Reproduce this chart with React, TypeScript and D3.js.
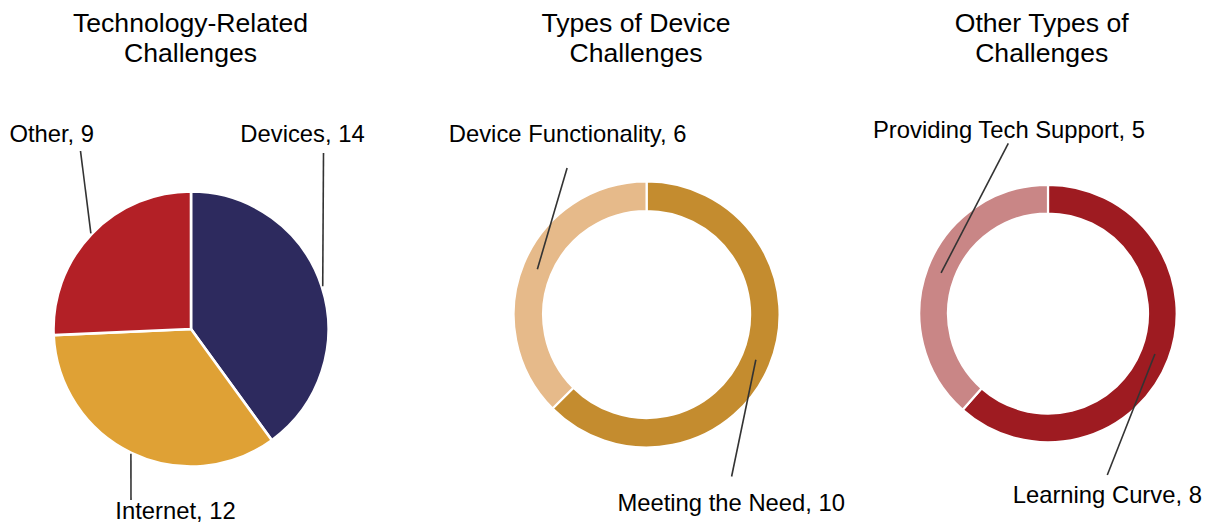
import React from "react";
import * as d3 from "d3";

const W = 1207;
const H = 524;

// Chart 1: Technology-Related Challenges (pie)
const techTitle = ["Technology-Related", "Challenges"];
const techCategories = ["Devices", "Internet", "Other"];
const techValues = [14, 12, 9];
const techColors = ["#2D2A5E", "#DFA135", "#B32026"];

// Chart 2: Types of Device Challenges (donut)
const deviceTitle = ["Types of Device", "Challenges"];
const deviceCategories = ["Meeting the Need", "Device Functionality"];
const deviceValues = [10, 6];
const deviceColors = ["#C48C2F", "#E6BA8A"];

// Chart 3: Other Types of Challenges (donut)
const otherTitle = ["Other Types of", "Challenges"];
const otherCategories = ["Learning Curve", "Providing Tech Support"];
const otherValues = [8, 5];
const otherColors = ["#9E1B21", "#C98686"];

type LabelLayout = { tx: number; ty: number; lx: number; ly: number };

type ChartSpec = {
  title: string[];
  titleX: number;
  categories: string[];
  values: number[];
  colors: string[];
  cx: number;
  cy: number;
  outer: number;
  inner: number;
  leaderRadius: "outer" | "mid";
  labels: LabelLayout[];
};

const charts: ChartSpec[] = [
  {
    title: techTitle,
    titleX: 190.5,
    categories: techCategories,
    values: techValues,
    colors: techColors,
    cx: 191,
    cy: 329,
    outer: 137.5,
    inner: 0,
    leaderRadius: "outer",
    labels: [
      { tx: 111.5, ty: -187, lx: 132.5, ly: -176 },
      { tx: -15.5, ty: 190, lx: -60, ly: 171 },
      { tx: -139.3, ty: -187, lx: -110.5, ly: -178 },
    ],
  },
  {
    title: deviceTitle,
    titleX: 636,
    categories: deviceCategories,
    values: deviceValues,
    colors: deviceColors,
    cx: 646.6,
    cy: 314.5,
    outer: 133,
    inner: 103.5,
    leaderRadius: "mid",
    labels: [
      { tx: 84.6, ty: 196.5, lx: 85, ly: 162 },
      { tx: -79, ty: -172.8, lx: -79.5, ly: -146.5 },
    ],
  },
  {
    title: otherTitle,
    titleX: 1041.7,
    categories: otherCategories,
    values: otherValues,
    colors: otherColors,
    cx: 1048,
    cy: 313.5,
    outer: 128.7,
    inner: 100,
    leaderRadius: "mid",
    labels: [
      { tx: 59.3, ty: 189.5, lx: 59.3, ly: 161.5 },
      { tx: -39, ty: -175.8, lx: -39.7, ly: -170.2 },
    ],
  },
];

const FONT = "'Liberation Sans', Arial, Helvetica, sans-serif";

function Chart({ spec }: { spec: ChartSpec }) {
  const pie = d3
    .pie<number>()
    .sort(null)
    .value((d) => d);
  const arcs = pie(spec.values);
  const arcGen = d3
    .arc<d3.PieArcDatum<number>>()
    .innerRadius(spec.inner)
    .outerRadius(spec.outer);
  const leaderR =
    spec.leaderRadius === "outer" ? spec.outer + 1 : (spec.outer + spec.inner) / 2;

  return (
    <g>
      <text
        x={spec.titleX}
        y={31}
        textAnchor="middle"
        fontFamily={FONT}
        fontSize={26.6}
        fill="#000"
      >
        <tspan x={spec.titleX} y={31.5}>
          {spec.title[0]}
        </tspan>
        <tspan x={spec.titleX} y={61.8}>
          {spec.title[1]}
        </tspan>
      </text>
      <g transform={`translate(${spec.cx},${spec.cy})`}>
        {arcs.map((a, i) => (
          <path
            key={i}
            d={arcGen(a) || ""}
            fill={spec.colors[i]}
            stroke="#fff"
            strokeWidth={spec.inner > 0 ? 2.2 : 2.6}
            strokeLinejoin="miter"
          />
        ))}
        {arcs.map((a, i) => {
          const mid = (a.startAngle + a.endAngle) / 2;
          const px = Math.sin(mid) * leaderR;
          const py = -Math.cos(mid) * leaderR;
          const lab = spec.labels[i];
          return (
            <g key={"l" + i}>
              <line
                x1={lab.lx}
                y1={lab.ly}
                x2={px}
                y2={py}
                stroke="#333"
                strokeWidth={1.6}
              />
              <text
                x={lab.tx}
                y={lab.ty}
                textAnchor="middle"
                fontFamily={FONT}
                fontSize={23.8}
                fill="#000"
              >
                {`${spec.categories[i]}, ${spec.values[i]}`}
              </text>
            </g>
          );
        })}
      </g>
    </g>
  );
}

export default function App() {
  return (
    <svg
      width={W}
      height={H}
      viewBox={`0 0 ${W} ${H}`}
      style={{ position: "absolute", left: 0, top: 0, background: "#fff" }}
    >
      <rect x={0} y={0} width={W} height={H} fill="#fff" />
      {charts.map((c, i) => (
        <Chart key={i} spec={c} />
      ))}
    </svg>
  );
}
